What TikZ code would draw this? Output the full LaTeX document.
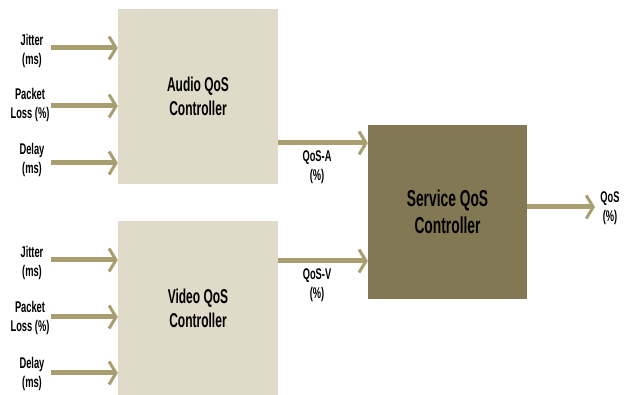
\documentclass[tikz,border=0pt]{standalone}
\usepackage{fontspec}
\setmainfont{Liberation Sans}
\newfontfamily\narrowfont[FakeStretch=0.6]{Liberation Sans Bold}
\usetikzlibrary{arrows.meta}
\definecolor{boxlight}{RGB}{224,218,201}
\definecolor{boxdark}{RGB}{130,120,84}
\definecolor{arrowc}{RGB}{168,158,112}
\tikzset{
  ctrl/.style={draw=none, fill=boxlight, minimum width=160pt, inner sep=0pt, align=center, font=\narrowfont\fontsize{20}{24}\selectfont},
  svc/.style={draw=none, fill=boxdark, minimum width=159pt, minimum height=174pt, inner sep=0pt, align=center, font=\narrowfont\fontsize{23}{27}\selectfont},
  lbl/.style={inner sep=0pt, align=center, font=\narrowfont\fontsize{15.5}{19}\selectfont},
  flow/.style={draw=arrowc, line width=5pt, -{Straight Barb[length=7pt,width=23pt,line width=3pt]}},
}
\begin{document}
\begin{tikzpicture}[x=1pt,y=-1pt]
\useasboundingbox (0,0) rectangle (630,395);
\fill[white] (0,0) rectangle (630,395);
\node[ctrl, minimum height=175pt] (audio) at (198,96.5) {Audio QoS\\Controller};
\node[ctrl, minimum height=175pt] (video) at (198,308.5) {Video QoS\\Controller};
\node[svc] (service) at (447.5,212) {Service QoS\\Controller};
% inputs
\node[lbl] (aj) at (32,51) {Jitter\\(ms)};
\node[lbl] (ap) at (30,105) {Packet\\Loss (\%)};
\node[lbl] (ad) at (32,160) {Delay\\(ms)};
\node[lbl] (vj) at (32,263) {Jitter\\(ms)};
\node[lbl] (vp) at (30,318) {Packet\\Loss (\%)};
\node[lbl] (vd) at (32,374) {Delay\\(ms)};
\coordinate (aj0) at (51,48);
\coordinate (ap0) at (51,106);
\coordinate (ad0) at (51,163);
\coordinate (vj0) at (51,260);
\coordinate (vp0) at (51,317);
\coordinate (vd0) at (51,373);
\foreach \c/\b in {aj0/audio,ap0/audio,ad0/audio,vj0/video,vp0/video,vd0/video}
  \draw[flow] (\c) -- (\c -| \b.west);
% to service
\coordinate (qa0) at (278,143);
\coordinate (qv0) at (278,261);
\draw[flow] (qa0) -- (qa0 -| service.west);
\draw[flow] (qv0) -- (qv0 -| service.west);
\node[lbl] (qa) at (317,167) {QoS-A\\(\%)};
\node[lbl] (qv) at (317,285) {QoS-V\\(\%)};
% output
\coordinate (qo0) at (527,207);
\node[lbl] (qo) at (610,208) {QoS\\(\%)};
\draw[flow] (qo0) -- (595,207);
\end{tikzpicture}
\end{document}
